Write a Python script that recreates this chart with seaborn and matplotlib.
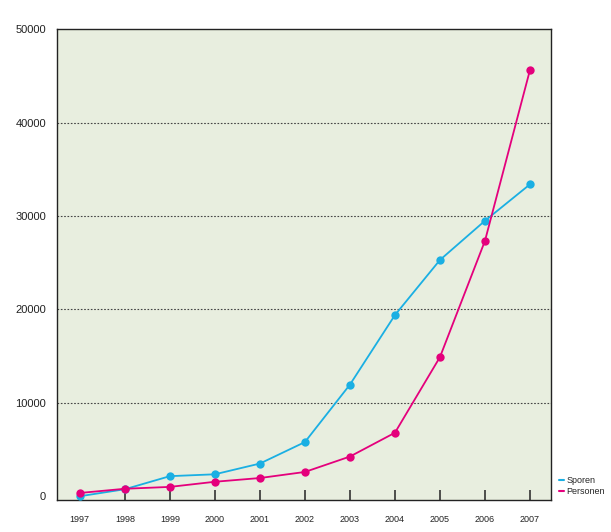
import matplotlib
matplotlib.use("Agg")
import matplotlib.pyplot as plt
import seaborn as sns
import pandas as pd
from matplotlib.lines import Line2D

years = [1997, 1998, 1999, 2000, 2001, 2002, 2003, 2004, 2005, 2006, 2007]
sporen = [0, 750, 2150, 2350, 3500, 5800, 11950, 19400, 25300, 29500, 33400]
personen = [350, 800, 1000, 1550, 1950, 2600, 4250, 6800, 14900, 27350, 45650]
series_names = ["Sporen", "Personen"]
y_ticks = [0, 10000, 20000, 30000, 40000, 50000]

df = pd.DataFrame({
    "year": years * 2,
    "value": sporen + personen,
    "series": [series_names[0]] * len(years) + [series_names[1]] * len(years),
})

sns.set_style("white")
plt.rcParams["font.family"] = ["Liberation Sans", "DejaVu Sans"]

colors = {"Sporen": "#1AAFE3", "Personen": "#E4007C"}

fig = plt.figure(figsize=(6.11, 5.32), dpi=100)
ax = fig.add_axes([0.0938, 0.0602, 0.9013 - 0.0938, 0.9449 - 0.0602])
ax.set_facecolor("#E8EEDF")

sns.lineplot(data=df, x="year", y="value", hue="series", palette=colors,
             marker="o", markersize=6, markeredgewidth=0, linewidth=1.3,
             ax=ax, legend=False, zorder=3)

ax.set_xlim(1996.5, 2007.46)
ax.set_ylim(-400, 49850)
ax.set_yticks(y_ticks)
ax.set_yticklabels([str(v) for v in y_ticks], fontsize=8, color="#222222")
ax.set_xticks(years)
ax.set_xticklabels([str(y) for y in years], fontsize=6.5, color="#222222")
ax.tick_params(axis="x", bottom=True, direction="in", length=7, width=1.2,
               color="#333333", pad=11)
ax.tick_params(axis="y", left=False, length=0, pad=8)
ax.set_xlabel("")
ax.set_ylabel("")

for v in [10000, 20000, 30000, 40000]:
    ax.axhline(v, color="#444444", linestyle=(0, (1.5, 1.5)), linewidth=0.8, zorder=1)

for s in ax.spines.values():
    s.set_color("#222222")
    s.set_linewidth(1.0)

handles = [Line2D([0], [0], color=colors[n], linewidth=1.5) for n in series_names]
fig.legend(handles, series_names, loc="lower left", bbox_to_anchor=(0.905, 0.055),
           frameon=False, fontsize=6.5, handlelength=0.5, handletextpad=0.3,
           labelspacing=0.3, borderpad=0.2)

fig.savefig("out.png", dpi=100)
